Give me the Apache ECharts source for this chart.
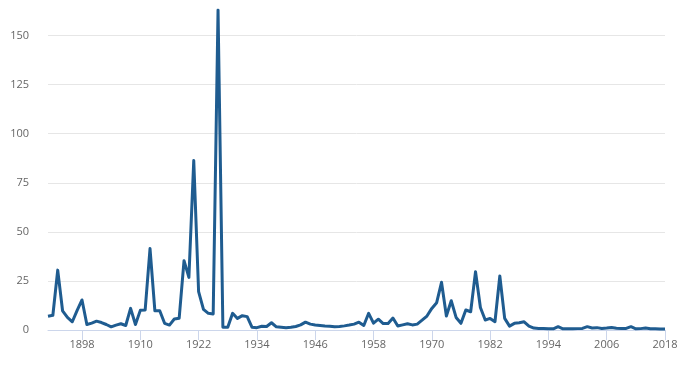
<!DOCTYPE html>
<html>
<head>
<meta charset="utf-8">
<script src="https://cdn.jsdelivr.net/npm/echarts@6/dist/echarts.min.js"></script>
<style>
html,body{margin:0;padding:0;background:#fff;}
#chart{width:681px;height:366px;}
</style>
</head>
<body>
<div id="chart"></div>
<script>
const startYear = 1891;
const endYear = 2018;
const years = [];
for (let y = startYear; y <= endYear; y++) years.push(String(y));

const values = [
  7, 7.5, 30.5, 9.8, 6.4, 4.2, 10, 15.3, 2.8, 3.5,
  4.5, 3.8, 2.8, 1.6, 2.5, 3.2, 2.3, 11, 2.8, 10,
  10.2, 41.5, 9.8, 9.8, 3.4, 2.5, 5.6, 6, 35.3, 26.8,
  86.3, 19.5, 10.5, 8.5, 8.2, 163, 1.4, 1.4, 8.5, 5.9,
  7.3, 6.8, 1.4, 1.2, 1.9, 1.8, 3.7, 1.6, 1.4, 1.2,
  1.4, 1.8, 2.6, 4, 3, 2.6, 2.3, 2.0, 1.9, 1.6,
  1.8, 2.1, 2.5, 3.0, 4.0, 2.3, 8.5, 3.5, 5.5, 3.3,
  3.3, 6.1, 2.0, 2.6, 3.2, 2.6, 3.0, 5.0, 7.1, 11.0,
  13.9, 24.3, 7.1, 14.9, 6.4, 3.4, 10.2, 9.3, 29.7, 11.5,
  5.1, 5.9, 4.2, 27.5, 5.9, 2.0, 3.4, 3.7, 4.2, 2.0,
  1.0, 0.8, 0.8, 0.6, 0.6, 1.7, 0.6, 0.6, 0.6, 0.7,
  0.8, 1.7, 1.0, 1.2, 0.8, 1.0, 1.3, 0.9, 0.8, 0.8,
  1.7, 0.6, 0.7, 1.0, 0.6, 0.6, 0.5, 0.5
];

const xTickLabels = ['1898','1910','1922','1934','1946','1958','1970','1982','1994','2006','2018'];
const yTickLabels = [0, 25, 50, 75, 100, 125, 150];

const showX = (idx) => xTickLabels.indexOf(years[idx]) >= 0;

const chart = echarts.init(document.getElementById('chart'), null, {renderer: 'canvas'});
chart.setOption({
  animation: false,
  backgroundColor: '#ffffff',
  grid: {left: 48, right: 16, top: 10, bottom: 36, containLabel: false},
  xAxis: {
    type: 'category',
    data: years,
    boundaryGap: false,
    axisLine: {show: true, lineStyle: {color: '#ccd6eb', width: 1}},
    axisTick: {show: true, length: 10, interval: showX, lineStyle: {color: '#ccd6eb'}},
    axisLabel: {
      interval: showX, margin: 9,
      color: '#666666', fontFamily: 'Open Sans', fontSize: 11
    },
    splitLine: {show: false}
  },
  yAxis: {
    type: 'value',
    min: 0,
    max: 'dataMax',
    axisLine: {show: false},
    axisTick: {show: false, customValues: yTickLabels},
    axisLabel: {
      customValues: yTickLabels, margin: 19,
      color: '#666666', fontFamily: 'Open Sans', fontSize: 11
    },
    splitLine: {show: true, lineStyle: {color: '#e6e6e6', width: 1}}
  },
  series: [{
    type: 'line',
    data: values,
    showSymbol: false,
    symbol: 'none',
    lineStyle: {color: '#1f5c90', width: 3, join: 'round'},
    itemStyle: {color: '#1f5c90'}
  }]
});
</script>
</body>
</html>
